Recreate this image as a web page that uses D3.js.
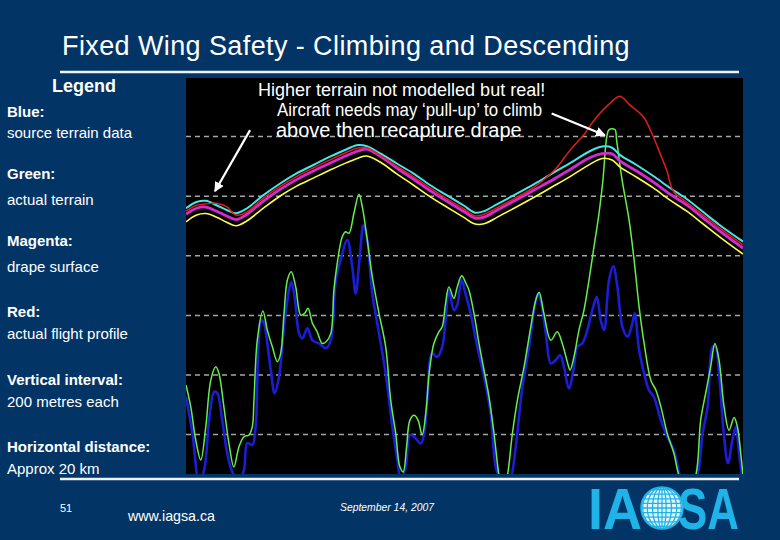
<!DOCTYPE html>
<html><head><meta charset="utf-8">
<script src="https://cdn.jsdelivr.net/npm/d3@7"></script>
<style>html,body{margin:0;padding:0;background:#033466;} svg{display:block}</style>
</head><body>
<svg id="c" width="780" height="540"></svg>
<script>
// ---------- DATA (distance in km, elevation in metres) ----------
const titleText = "Fixed Wing Safety - Climbing and Descending";
const gridElevations = [200, 400, 600, 800, 1000, 1200];
const xDomain = [0, 20];
const yDomain = [66, 1395];

const greenKm = [0.00,0.17,0.35,0.53,0.71,0.89,1.07,1.18,1.36,1.54,1.72,1.90,2.08,2.26,2.38,2.44,2.56,2.76,2.92,3.10,3.28,3.40,3.52,3.64,3.78,3.94,4.12,4.26,4.38,4.54,4.71,4.89,5.03,5.20,5.31,5.43,5.61,5.73,5.85,6.03,6.21,6.33,6.51,6.69,6.93,7.17,7.35,7.53,7.68,7.80,7.92,8.04,8.19,8.33,8.48,8.61,8.73,8.90,9.08,9.20,9.32,9.44,9.62,9.74,9.90,10.05,10.16,10.34,10.52,10.70,10.88,11.06,11.24,11.38,11.54,11.72,11.90,12.14,12.38,12.56,12.68,12.85,13.10,13.33,13.51,13.69,13.79,13.93,14.11,14.29,14.47,14.65,14.83,14.97,15.11,15.19,15.40,15.46,15.66,15.91,16.09,16.27,16.45,16.69,16.87,17.05,17.28,17.52,17.70,17.99,18.30,18.48,18.66,18.84,18.99,19.14,19.32,19.50,19.68,19.80,19.92,20.00];
const greenElev = [365,292,180,113,224,381,426,405,292,170,90,157,191,197,224,314,515,613,549,493,443,471,605,717,745,694,599,605,622,572,543,504,510,538,683,773,862,879,874,941,1005,963,851,728,605,493,314,202,90,73,157,247,263,247,197,269,404,504,543,560,639,694,655,694,731,706,683,605,504,415,325,202,60,0,60,202,314,426,560,650,676,605,515,543,504,443,415,459,549,616,717,829,941,1052,1198,1222,1222,1187,1052,918,784,627,504,381,348,292,202,135,60,0,60,247,337,426,504,448,292,213,256,224,135,60];

const blueKm = [0.00,0.23,0.47,0.65,0.83,1.01,1.12,1.30,1.48,1.66,1.90,2.08,2.20,2.38,2.50,2.59,2.70,2.80,2.92,3.06,3.18,3.34,3.52,3.66,3.78,3.90,4.06,4.18,4.36,4.54,4.78,5.03,5.20,5.38,5.55,5.79,5.97,6.09,6.25,6.37,6.51,6.69,6.93,7.17,7.41,7.59,7.71,7.89,8.04,8.19,8.43,8.55,8.66,8.84,9.02,9.20,9.32,9.44,9.62,9.74,9.89,10.05,10.22,10.46,10.70,10.94,11.12,11.30,11.45,11.66,11.84,12.08,12.32,12.52,12.64,12.76,12.92,13.10,13.27,13.43,13.57,13.75,13.93,14.05,14.23,14.41,14.59,14.75,14.89,15.01,15.19,15.34,15.49,15.67,15.85,16.03,16.11,16.27,16.45,16.62,16.80,17.05,17.28,17.52,17.70,18.03,18.37,18.55,18.73,18.91,19.01,19.14,19.32,19.46,19.62,19.74,19.86,19.98];
const blueElev = [325,203,40,79,247,342,338,247,136,73,45,79,170,163,224,472,583,572,504,404,337,392,560,661,711,661,538,521,555,515,504,488,515,717,784,851,761,672,806,901,851,672,538,404,224,113,45,90,197,191,169,202,314,471,459,493,583,683,616,633,717,666,605,493,392,269,90,45,0,45,157,359,493,627,672,639,538,437,448,465,426,353,426,493,504,549,616,661,583,549,717,764,694,560,527,572,605,482,404,348,325,247,191,146,72,0,66,202,292,493,493,404,191,102,180,224,135,45];

const drapeKm = [0.00,0.38,0.71,1.10,1.46,1.80,2.18,2.78,3.38,3.97,4.57,5.17,5.77,6.18,6.49,6.97,7.57,8.16,8.76,9.36,9.96,10.38,10.70,11.18,11.78,12.50,13.14,13.79,14.51,14.94,15.30,15.59,16.18,16.78,17.38,17.98,18.57,19.17,20.00];
const cyanElev = [958,979,983,968,952,941,957,1002,1041,1075,1103,1131,1156,1170,1166,1142,1108,1075,1036,1002,968,943,948,972,1002,1039,1074,1109,1150,1165,1161,1136,1103,1066,1026,989,945,901,846];
const magentaElev = [938,958,962,948,932,920,937,982,1021,1054,1083,1109,1135,1150,1156,1133,1093,1056,1017,982,948,925,928,952,982,1019,1052,1088,1128,1141,1141,1116,1083,1046,1005,969,925,881,824];
const yellowElev = [912,935,940,928,911,899,915,958,999,1032,1059,1086,1111,1126,1133,1113,1073,1036,997,962,928,905,906,928,958,995,1029,1064,1106,1125,1120,1096,1062,1026,985,948,905,861,804];

const redKm = [0.00,0.38,0.71,1.10,1.46,1.80,2.18,2.78,3.38,3.97,4.57,5.17,5.77,6.18,6.49,6.97,7.57,8.16,8.76,9.36,9.96,10.38,10.70,11.18,11.78,12.50,13.25,13.79,14.27,14.75,15.22,15.58,15.94,16.42,16.78,17.02,17.26,17.50,17.98,18.57,19.17,20.00];
const redElev = [948,968,972,975,963,935,945,992,1031,1064,1093,1120,1146,1160,1161,1136,1099,1064,1026,990,957,932,938,960,990,1029,1088,1153,1203,1265,1310,1334,1304,1265,1198,1142,1086,1015,978,935,891,835];

const legendItems = [
  ["Blue:", "source terrain data"],
  ["Green:", "actual terrain"],
  ["Magenta:", "drape surface"],
  ["Red:", "actual flight profile"],
  ["Vertical interval:", "200 metres each"],
  ["Horizontal distance:", "Approx 20 km"]
];
const noteA = "Higher terrain not modelled but real!";
const noteB = ["Aircraft needs may \u2018pull-up\u2019 to climb", "above then recapture drape"];
// arrows in data units: [fromKm, fromElev, toKm, toElev]
const arrows = [[2.30, 1220, 1.04, 1015], [13.13, 1276, 15.04, 1203]];
const footer = {page: "51", url: "www.iagsa.ca", date: "September 14, 2007"};

// ---------- DRAW ----------
const W = 780, H = 540;
const NAVY = "#033466";
const FONT = "'Liberation Sans', Arial, Helvetica, sans-serif";
const svg = d3.select("#c");
svg.append("rect").attr("width", W).attr("height", H).attr("fill", NAVY);

const plot = {left: 186, top: 78, right: 743, bottom: 474};
const x = d3.scaleLinear().domain(xDomain).range([plot.left, plot.right]);
const y = d3.scaleLinear().domain(yDomain).range([plot.bottom, plot.top]);

// title + rules
svg.append("text").attr("x", 62).attr("y", 55).attr("fill", "#fff")
  .attr("font-family", FONT).attr("font-size", 27).attr("letter-spacing", 0.4).text(titleText);
svg.append("line").attr("x1", 60).attr("x2", 739).attr("y1", 72).attr("y2", 72)
  .attr("stroke", "#eef3f8").attr("stroke-width", 2.5);
svg.append("line").attr("x1", 60).attr("x2", 739).attr("y1", 479).attr("y2", 479)
  .attr("stroke", "#eef3f8").attr("stroke-width", 2.5);

// legend
svg.append("text").attr("x", 52).attr("y", 92).attr("fill", "#fff").attr("font-family", FONT)
  .attr("font-size", 18).attr("font-weight", "bold").text("Legend");
const headY = [117, 179, 246, 317, 385, 452];
const subY = [138, 205, 272, 339, 407, 474];
legendItems.forEach((d, i) => {
  svg.append("text").attr("x", 7).attr("y", headY[i]).attr("fill", "#fff").attr("font-family", FONT)
    .attr("font-size", 15).attr("font-weight", "bold").text(d[0]);
  svg.append("text").attr("x", 7).attr("y", subY[i]).attr("fill", "#fff").attr("font-family", FONT)
    .attr("font-size", 15).text(d[1]);
});

// plot area
svg.append("rect").attr("x", plot.left).attr("y", plot.top)
  .attr("width", plot.right - plot.left).attr("height", plot.bottom - plot.top).attr("fill", "#000");
svg.append("clipPath").attr("id", "clip").append("rect")
  .attr("x", plot.left).attr("y", plot.top)
  .attr("width", plot.right - plot.left).attr("height", plot.bottom - plot.top);

const grid = d3.axisLeft(y).tickValues(gridElevations).tickSize(-(plot.right - plot.left)).tickFormat("");
svg.append("g").attr("transform", `translate(${plot.left},0)`).call(grid)
  .call(g => g.select(".domain").remove())
  .selectAll("line").attr("stroke", "#a6a6a6").attr("stroke-width", 1.5).attr("stroke-dasharray", "5,4");

const zip = (a, b) => a.map((v, i) => [v, b[i]]);
const line = d3.line().x(d => x(d[0])).y(d => y(d[1])).curve(d3.curveCatmullRom.alpha(0.5));
const layer = svg.append("g").attr("clip-path", "url(#clip)");
const series = [
  {data: zip(blueKm, blueElev), color: "#1d1dd6", w: 2.6},
  {data: zip(greenKm, greenElev), color: "#62f04c", w: 1.5},
  {data: zip(drapeKm, yellowElev), color: "#ffff48", w: 1.6},
  {data: zip(drapeKm, magentaElev), color: "#d42ad4", w: 2.8},
  {data: zip(drapeKm, cyanElev), color: "#44e6e6", w: 2},
  {data: zip(redKm, redElev), color: "#e01c1c", w: 1.5}
];
series.forEach(s => layer.append("path").attr("d", line(s.data)).attr("fill", "none")
  .attr("stroke", s.color).attr("stroke-width", s.w).attr("stroke-linejoin", "round"));

// annotations
const defs = svg.append("defs");
defs.append("marker").attr("id", "ah").attr("viewBox", "0 0 10 10").attr("refX", 9).attr("refY", 5)
  .attr("markerWidth", 4.5).attr("markerHeight", 4.5).attr("orient", "auto")
  .append("path").attr("d", "M0,0 L10,5 L0,10 Z").attr("fill", "#fff");
arrows.forEach(a => svg.append("line").attr("x1", x(a[0])).attr("y1", y(a[1]))
  .attr("x2", x(a[2])).attr("y2", y(a[3])).attr("stroke", "#fff").attr("stroke-width", 2.2)
  .attr("marker-end", "url(#ah)"));

svg.append("text").attr("x", 258).attr("y", 96).attr("fill", "#fff").attr("font-family", FONT)
  .attr("font-size", 18).text(noteA);
svg.append("text").attr("x", 277).attr("y", 116).attr("fill", "#fff").attr("font-family", FONT)
  .attr("font-size", 19).attr("textLength", 265).attr("lengthAdjust", "spacingAndGlyphs").text(noteB[0]);
svg.append("text").attr("x", 276).attr("y", 137).attr("fill", "#fff").attr("font-family", FONT)
  .attr("font-size", 20).text(noteB[1]);

// footer
svg.append("text").attr("x", 60).attr("y", 512).attr("fill", "#fff").attr("font-family", FONT)
  .attr("font-size", 11).text(footer.page);
svg.append("text").attr("x", 128).attr("y", 521).attr("fill", "#fff").attr("font-family", FONT)
  .attr("font-size", 15).attr("textLength", 87).attr("lengthAdjust", "spacingAndGlyphs").text(footer.url);
svg.append("text").attr("x", 340).attr("y", 511).attr("fill", "#fff").attr("font-family", FONT)
  .attr("font-size", 10).attr("font-style", "italic").attr("textLength", 94).attr("lengthAdjust", "spacingAndGlyphs").text(footer.date);

// IAGSA logo
const LOGO = "#1fb3e8";
const logo = svg.append("g");
logo.append("text").attr("x", 588).attr("y", 529).attr("fill", LOGO).attr("font-family", FONT)
  .attr("font-weight", "bold").attr("font-size", 58).attr("textLength", 54).attr("lengthAdjust", "spacingAndGlyphs").text("IA");
logo.append("text").attr("x", 678).attr("y", 529).attr("fill", LOGO).attr("font-family", FONT)
  .attr("font-weight", "bold").attr("font-size", 58).attr("textLength", 61).attr("lengthAdjust", "spacingAndGlyphs").text("SA");
const gc = {cx: 662, cy: 508, r: 21};
defs.append("clipPath").attr("id", "globe").append("circle").attr("cx", gc.cx).attr("cy", gc.cy).attr("r", gc.r);
logo.append("circle").attr("cx", gc.cx).attr("cy", gc.cy).attr("r", gc.r).attr("fill", "#e4f6fd");
const gg = logo.append("g").attr("clip-path", "url(#globe)");
d3.range(-4, 5).forEach(k => gg.append("line").attr("x1", gc.cx - gc.r).attr("x2", gc.cx + gc.r)
  .attr("y1", gc.cy + k * 4.6).attr("y2", gc.cy + k * 4.6).attr("stroke", LOGO).attr("stroke-width", 1.3));
[0.2, 0.45, 0.7, 0.92].forEach(f => gg.append("ellipse").attr("cx", gc.cx).attr("cy", gc.cy)
  .attr("rx", gc.r * f).attr("ry", gc.r).attr("fill", "none").attr("stroke", LOGO).attr("stroke-width", 1.3));
gg.append("line").attr("x1", gc.cx).attr("x2", gc.cx).attr("y1", gc.cy - gc.r).attr("y2", gc.cy + gc.r)
  .attr("stroke", LOGO).attr("stroke-width", 1.3);
logo.append("circle").attr("cx", gc.cx).attr("cy", gc.cy).attr("r", gc.r).attr("fill", "none")
  .attr("stroke", LOGO).attr("stroke-width", 1.5);
</script>
</body></html>
